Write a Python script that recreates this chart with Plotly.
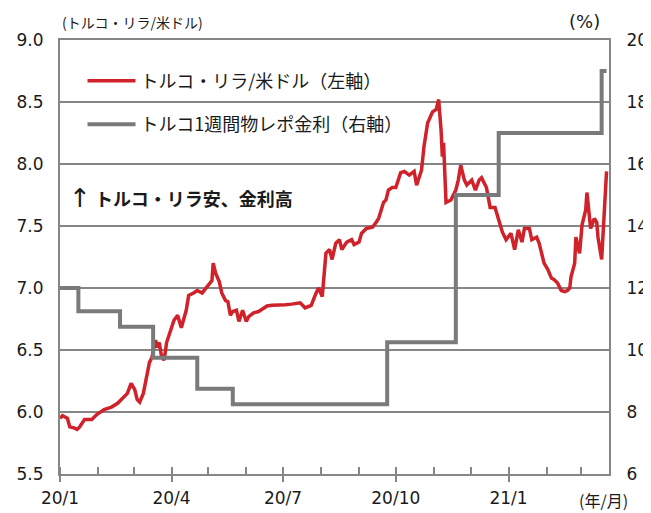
import plotly.graph_objects as go
import pandas as pd

# ---- data ----
fx_dates = [
    "2020-01-01", "2020-01-03", "2020-01-07", "2020-01-09", "2020-01-13", "2020-01-15", "2020-01-17",
    "2020-01-21", "2020-01-27", "2020-01-31", "2020-02-06", "2020-02-12", "2020-02-17", "2020-02-21",
    "2020-02-25", "2020-02-28", "2020-03-02", "2020-03-04", "2020-03-06", "2020-03-09", "2020-03-12",
    "2020-03-14", "2020-03-16", "2020-03-18", "2020-03-19", "2020-03-20", "2020-03-22", "2020-03-24",
    "2020-03-26", "2020-03-28", "2020-04-01", "2020-04-03", "2020-04-06", "2020-04-07", "2020-04-09",
    "2020-04-13", "2020-04-15", "2020-04-19", "2020-04-22", "2020-04-26", "2020-04-29", "2020-05-02",
    "2020-05-04", "2020-05-05", "2020-05-07", "2020-05-10", "2020-05-12", "2020-05-15", "2020-05-17",
    "2020-05-19", "2020-05-21", "2020-05-24", "2020-05-26", "2020-05-29", "2020-06-01", "2020-06-03",
    "2020-06-07", "2020-06-11", "2020-06-15", "2020-06-18", "2020-06-22", "2020-06-30", "2020-07-03",
    "2020-07-08", "2020-07-15", "2020-07-19", "2020-07-24", "2020-07-28", "2020-07-30", "2020-08-02",
    "2020-08-04", "2020-08-05", "2020-08-08", "2020-08-10", "2020-08-13", "2020-08-16", "2020-08-18",
    "2020-08-22", "2020-08-26", "2020-08-28", "2020-09-01", "2020-09-03", "2020-09-07", "2020-09-12",
    "2020-09-15", "2020-09-17", "2020-09-21", "2020-09-23", "2020-09-25", "2020-09-28", "2020-10-01",
    "2020-10-05", "2020-10-08", "2020-10-12", "2020-10-16", "2020-10-18", "2020-10-22", "2020-10-24",
    "2020-10-27", "2020-10-31", "2020-11-03", "2020-11-05", "2020-11-07", "2020-11-08", "2020-11-09",
    "2020-11-11", "2020-11-15", "2020-11-19", "2020-11-21", "2020-11-23", "2020-11-26", "2020-11-28",
    "2020-12-02", "2020-12-05", "2020-12-08", "2020-12-10", "2020-12-14", "2020-12-17", "2020-12-21",
    "2020-12-24", "2020-12-27", "2020-12-30", "2021-01-03", "2021-01-06", "2021-01-09", "2021-01-12",
    "2021-01-14", "2021-01-18", "2021-01-20", "2021-01-24", "2021-01-26", "2021-01-30", "2021-02-02",
    "2021-02-05", "2021-02-07", "2021-02-10", "2021-02-13", "2021-02-16", "2021-02-18", "2021-02-20",
    "2021-02-21", "2021-02-24", "2021-02-25", "2021-02-28", "2021-03-02", "2021-03-05", "2021-03-06",
    "2021-03-09", "2021-03-12", "2021-03-14", "2021-03-15", "2021-03-18", "2021-03-20", "2021-03-22",
]
fx_values = [
    5.95, 5.97, 5.95, 5.88, 5.87, 5.86, 5.88,
    5.94, 5.94, 5.98, 6.02, 6.04, 6.07, 6.11,
    6.15, 6.23, 6.18, 6.10, 6.08, 6.15, 6.31,
    6.40, 6.44, 6.52, 6.58, 6.52, 6.56, 6.44,
    6.42, 6.56, 6.68, 6.74, 6.78, 6.74, 6.68,
    6.82, 6.94, 6.96, 6.98, 6.96, 7.00, 7.04,
    7.06, 7.20, 7.12, 7.05, 6.96, 6.90, 6.89,
    6.78, 6.81, 6.82, 6.73, 6.82, 6.73, 6.77,
    6.80, 6.81, 6.84, 6.855, 6.86, 6.86, 6.865,
    6.87, 6.88, 6.84, 6.86, 6.96, 7.00, 6.93,
    7.12, 7.28, 7.31, 7.23, 7.36, 7.39, 7.31,
    7.37, 7.39, 7.35, 7.37, 7.44, 7.48, 7.49,
    7.53, 7.56, 7.69, 7.71, 7.79, 7.81, 7.81,
    7.93, 7.94, 7.91, 7.94, 7.83, 7.95, 8.14,
    8.33, 8.42, 8.44, 8.52, 8.27, 8.06, 8.17,
    7.69, 7.71, 7.79, 7.87, 7.99, 7.87, 7.83,
    7.87, 7.79, 7.87, 7.89, 7.81, 7.65, 7.65,
    7.55, 7.45, 7.39, 7.44, 7.31, 7.47, 7.37,
    7.48, 7.48, 7.39, 7.41, 7.36, 7.20, 7.15,
    7.08, 7.07, 7.04, 6.98, 6.97, 6.98, 7.00,
    7.09, 7.20, 7.41, 7.28, 7.51, 7.63, 7.77,
    7.48, 7.56, 7.53, 7.41, 7.23, 7.57, 7.94,
]

rate_dates = [
    "2020-01-01", "2020-01-16", "2020-02-19", "2020-03-17", "2020-04-22", "2020-05-21",
    "2020-09-24", "2020-11-19", "2020-12-24", "2021-03-18", "2021-03-22",
]
rate_values = [12.0, 11.25, 10.75, 9.75, 8.75, 8.25, 10.25, 15.0, 17.0, 19.0, 19.0]

tick_dates = ["2020-01-01", "2020-04-01", "2020-07-01", "2020-10-01", "2021-01-01"]
tick_labels = ["20/1", "20/4", "20/7", "20/10", "21/1"]

fx_name = "トルコ・リラ/米ドル（左軸）"
rate_name = "トルコ1週間物レポ金利（右軸）"

x_start, x_end = "2020-01-01", "2021-03-24"
minor_ticks = [d.strftime("%Y-%m-%d") for d in pd.date_range("2020-01-01", "2021-03-01", freq="MS")]

FONT = "DejaVu Sans, Verdana, Noto Sans CJK JP, sans-serif"
JP = "Noto Sans CJK JP, sans-serif"
GRID = "#868686"
TXT = "#1a1a1a"

fig = go.Figure()
fig.add_trace(go.Scatter(
    x=rate_dates, y=rate_values, name=rate_name, mode="lines", yaxis="y2",
    line=dict(color="#7a7a7a", width=4, shape="hv"), legendrank=2, legendgroup="b",
))
fig.add_trace(go.Scatter(
    x=fx_dates, y=fx_values, name=fx_name, mode="lines", yaxis="y",
    line=dict(color="#D0222A", width=3.5), legendrank=1, legendgroup="a",
))

# page body has an 8px margin, so the figure is 8px smaller than the window
fig.update_layout(
    width=643, height=505,
    margin=dict(l=52, r=42, t=32, b=39, autoexpand=False),
    paper_bgcolor="white", plot_bgcolor="white",
    font=dict(family=FONT, size=17, color=TXT),
    showlegend=True,
    legend=dict(
        x=0.041, y=0.948, xanchor="left", yanchor="top",
        bgcolor="rgba(255,255,255,0)", borderwidth=0,
        traceorder="grouped", tracegroupgap=17,
        font=dict(family=JP, size=18, color=TXT),
        itemwidth=48,
    ),
    xaxis=dict(
        type="date", range=[x_start, x_end], automargin=False,
        tickmode="array", tickvals=tick_dates, ticktext=tick_labels,
        ticks="outside", ticklen=6, tickwidth=2, tickcolor=GRID,
        minor=dict(tickmode="array", tickvals=minor_ticks, ticks="inside", ticklen=7,
                   tickwidth=2, tickcolor=GRID, showgrid=False),
        showgrid=False, showline=True, linecolor=GRID, linewidth=2, mirror=True,
        tickfont=dict(size=17), ticklabelstandoff=2, zeroline=False,
    ),
    yaxis=dict(
        range=[5.5, 9.0], dtick=0.5, tick0=5.5, tickformat=".1f", automargin=False,
        showgrid=True, gridcolor=GRID, gridwidth=2,
        showline=True, linecolor=GRID, linewidth=2,
        ticks="", ticklabelstandoff=11, zeroline=False, tickfont=dict(size=17),
    ),
    yaxis2=dict(
        range=[6, 20], dtick=2, tick0=6, overlaying="y", side="right", automargin=False,
        showgrid=False, showline=True, linecolor=GRID, linewidth=2,
        ticks="", ticklabelstandoff=12, zeroline=False, tickfont=dict(size=17),
    ),
    annotations=[
        dict(text="(トルコ・リラ/米ドル)", xref="paper", yref="paper", x=0.0, y=1.042,
             xanchor="left", yanchor="middle", showarrow=False,
             font=dict(family=JP, size=14, color=TXT)),
        dict(text="(%)", xref="paper", yref="paper", x=0.988, y=1.042,
             xanchor="right", yanchor="middle", showarrow=False,
             font=dict(family=FONT, size=18, color=TXT)),
        dict(text="(年/月)", xref="paper", yref="paper", x=0.99, y=-0.06,
             xanchor="center", yanchor="middle", showarrow=False,
             font=dict(family=JP, size=16, color=TXT)),
        dict(text="↑", xref="paper", yref="paper", x=0.037, y=0.637,
             xanchor="center", yanchor="middle", showarrow=False,
             font=dict(family=FONT, size=26, color=TXT)),
        dict(text="<b>トルコ・リラ安、金利高</b>", xref="paper", yref="paper", x=0.06, y=0.637,
             xanchor="left", yanchor="middle", showarrow=False,
             font=dict(family=JP, size=18, color=TXT)),
    ],
)

fig.write_html("out.html")
